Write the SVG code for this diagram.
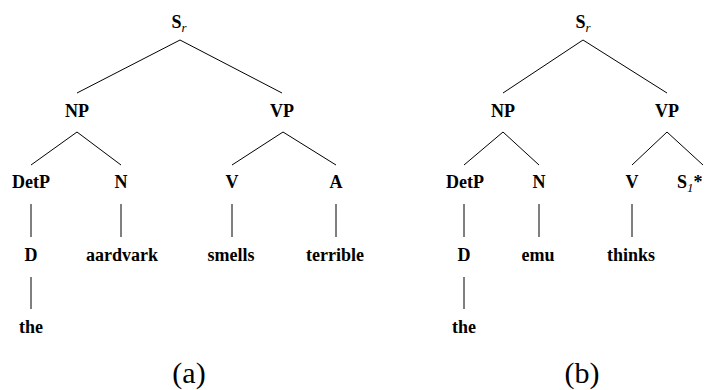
<svg xmlns="http://www.w3.org/2000/svg" width="712" height="390" viewBox="0 0 712 390">
<style>
.n{font-family:'Liberation Serif','DejaVu Serif',serif;font-weight:bold;font-size:18px;fill:#000;text-anchor:middle}
.sub{font-style:italic;font-weight:normal;font-size:13px}
.cap{font-family:'Liberation Serif','DejaVu Serif',serif;font-size:30px;fill:#000;text-anchor:middle}
.e{stroke:#000;stroke-width:1;fill:none}
</style>
<rect width="712" height="390" fill="#fff"/>
<g id="connectors">
<path class="e" d="M180,40L77,93M180,40L282,93M77,132L31,165M77,132L121,165M283,132L232,165M283,132L336,165M31,204V237M121,204V237M232,204V237M336,204V237M31,277V309"/>
<path class="e" d="M583,40L503,93M583,40L667,93M503,132L464,165M503,132L539,165M667,132L632,165M667,132L703,165M464,204V237M539,204V237M632,204V237M464,277V309"/>
</g>
<g id="a-Sr"><text class="n" x="179" y="28">S<tspan class="sub" dy="4">r</tspan></text></g>
<g id="a-NP"><text class="n" x="77" y="117">NP</text></g>
<g id="a-VP"><text class="n" x="282" y="117">VP</text></g>
<g id="a-DetP"><text class="n" x="31" y="188">DetP</text></g>
<g id="a-N"><text class="n" x="121" y="188">N</text></g>
<g id="a-V"><text class="n" x="232" y="188">V</text></g>
<g id="a-A"><text class="n" x="336" y="188">A</text></g>
<g id="a-D"><text class="n" x="31" y="261">D</text></g>
<g id="a-aardvark"><text class="n" x="122" y="261">aardvark</text></g>
<g id="a-smells"><text class="n" x="231" y="261">smells</text></g>
<g id="a-terrible"><text class="n" x="335" y="261">terrible</text></g>
<g id="a-the"><text class="n" x="31" y="333">the</text></g>
<g id="cap-a"><text class="cap" x="189" y="383">(a)</text></g>
<g id="b-Sr"><text class="n" x="583" y="28">S<tspan class="sub" dy="4">r</tspan></text></g>
<g id="b-NP"><text class="n" x="503" y="117">NP</text></g>
<g id="b-VP"><text class="n" x="667" y="117">VP</text></g>
<g id="b-DetP"><text class="n" x="465" y="188">DetP</text></g>
<g id="b-N"><text class="n" x="539" y="188">N</text></g>
<g id="b-V"><text class="n" x="632" y="188">V</text></g>
<g id="b-S1"><text class="n" x="677" y="188" style="text-anchor:start">S<tspan class="sub" dy="4">1</tspan><tspan dy="-4">*</tspan></text></g>
<g id="b-D"><text class="n" x="464" y="261">D</text></g>
<g id="b-emu"><text class="n" x="538" y="261">emu</text></g>
<g id="b-thinks"><text class="n" x="631" y="261">thinks</text></g>
<g id="b-the"><text class="n" x="464" y="333">the</text></g>
<g id="cap-b"><text class="cap" x="582" y="383">(b)</text></g>
</svg>
